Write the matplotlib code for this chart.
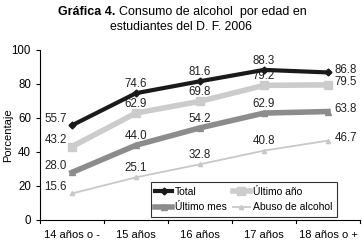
import matplotlib.pyplot as plt

categorias = ['14 años o -', '15 años', '16 años', '17 años', '18 años o +']
total = [55.7, 74.6, 81.6, 88.3, 86.8]
ultimo_anio = [43.2, 62.9, 69.8, 79.2, 79.5]
ultimo_mes = [28.0, 44.0, 54.2, 62.9, 63.8]
abuso = [15.6, 25.1, 32.8, 40.8, 46.7]

plt.rcParams['font.family'] = ['Liberation Sans', 'DejaVu Sans']

fig = plt.figure(figsize=(3.62, 2.42), dpi=100)
ax = fig.add_axes([40 / 362, 1 - 220 / 242, 320 / 362, 170 / 242])

x = list(range(len(categorias)))
l_total, = ax.plot(x, total, color='#1a1a1a', lw=3, marker='D', ms=3.5, label='Total', zorder=4)
l_anio, = ax.plot(x, ultimo_anio, color='#cccccc', lw=4, marker='s', ms=6, label='Último año', zorder=3)
l_mes, = ax.plot(x, ultimo_mes, color='#8c8c8c', lw=4, marker='^', ms=5, label='Último mes', zorder=3)
l_abuso, = ax.plot(x, abuso, color='#c8c8c8', lw=1.3, marker='^', ms=3, label='Abuso de alcohol', zorder=2)

# etiquetas de valores
for serie in [total, ultimo_anio, ultimo_mes, abuso]:
    for i, v in enumerate(serie):
        if i == 0:
            ax.text(i - 0.08, v + 4, f'{v:.1f}', ha='right', va='center', fontsize=8.3, color='#222222')
        elif i == len(serie) - 1:
            ax.text(i + 0.1, v + 1.5, f'{v:.1f}', ha='left', va='center', fontsize=8.3, color='#222222')
        else:
            ax.text(i, v + 5.5, f'{v:.1f}', ha='center', va='center', fontsize=8.3, color='#222222')

ax.set_xlim(-0.5, len(categorias) - 0.5)
ax.set_ylim(0, 100)
ax.set_yticks([0, 20, 40, 60, 80, 100])
ax.set_xticks(x)
ax.set_xticklabels(categorias, fontsize=8)
ax.tick_params(axis='x', length=0, pad=7)
ax.tick_params(axis='y', labelsize=8.3, length=3, direction='out')
for xm in [i - 0.5 for i in range(len(categorias) + 1)]:
    ax.plot([xm, xm], [0, -1.8], color='black', lw=0.8, clip_on=False)
ax.spines['top'].set_visible(False)
ax.spines['right'].set_visible(False)
ax.set_ylabel('Porcentaje', fontsize=8)
ax.yaxis.set_label_coords(-27 / 320, 0.5)

leg = ax.legend([l_total, l_mes, l_anio, l_abuso],
                ['Total', 'Último mes', 'Último año', 'Abuso de alcohol'],
                ncol=2, loc='lower right', bbox_to_anchor=(0.928, 0.018), borderaxespad=0,
                fontsize=7.5, frameon=True, fancybox=False, edgecolor='black',
                handlelength=1.6, columnspacing=0.6, handletextpad=0.3, borderpad=0.45,
                labelspacing=0.55)
leg.get_frame().set_linewidth(0.8)

fig.text(115 / 362, 1 - 12 / 242, 'Gráfica 4.', ha='right', va='center', fontsize=9,
         fontweight='bold')
fig.text(119 / 362, 1 - 12 / 242, 'Consumo de alcohol  por edad en', ha='left',
         va='center', fontsize=9)
fig.text(0.5, 1 - 27 / 242, 'estudiantes del D. F. 2006', ha='center', va='center', fontsize=8.8)

fig.savefig('out.png', dpi=100)
